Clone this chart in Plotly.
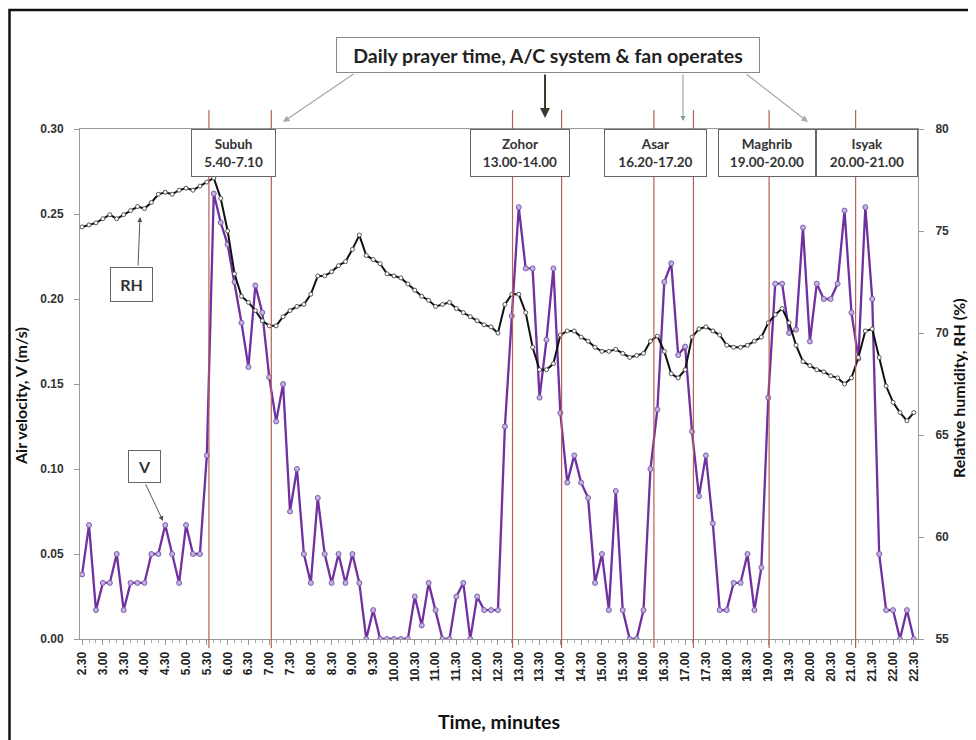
import plotly.graph_objects as go

# ---------------- data ----------------
# sample times (minutes of the day), one reading every 10 minutes from 2.30 to 22.30
sample_minutes = list(range(150, 1351, 10))
x_hours = [m / 60 for m in sample_minutes]

air_velocity = [
    0.038, 0.067, 0.017, 0.033, 0.033, 0.050, 0.017, 0.033, 0.033, 0.033,
    0.050, 0.050, 0.067, 0.050, 0.033, 0.067, 0.050, 0.050, 0.108, 0.262,
    0.245, 0.232, 0.210, 0.186, 0.160, 0.208, 0.192, 0.154, 0.128, 0.150,
    0.075, 0.100, 0.050, 0.033, 0.083, 0.050, 0.033, 0.050, 0.033, 0.050,
    0.033, 0.000, 0.017, 0.000, 0.000, 0.000, 0.000, 0.000, 0.025, 0.008,
    0.033, 0.017, 0.000, 0.000, 0.025, 0.033, 0.000, 0.025, 0.017, 0.017,
    0.017, 0.125, 0.190, 0.254, 0.218, 0.218, 0.142, 0.176, 0.218, 0.133,
    0.092, 0.108, 0.092, 0.083, 0.033, 0.050, 0.017, 0.087, 0.017, 0.000,
    0.000, 0.017, 0.100, 0.135, 0.210, 0.221, 0.167, 0.172, 0.122, 0.084,
    0.108, 0.068, 0.017, 0.017, 0.033, 0.033, 0.050, 0.017, 0.042, 0.142,
    0.209, 0.209, 0.180, 0.182, 0.242, 0.175, 0.209, 0.200, 0.200, 0.209,
    0.252, 0.192, 0.165, 0.254, 0.200, 0.050, 0.017, 0.017, 0.000, 0.017,
    0.000,
]

relative_humidity = [
    75.2, 75.3, 75.4, 75.6, 75.8, 75.6, 75.8, 76.0, 76.2, 76.1,
    76.4, 76.8, 76.9, 76.8, 77.0, 77.1, 77.0, 77.2, 77.4, 77.6,
    76.6, 75.0, 72.9, 71.8, 71.5, 71.1, 70.6, 70.35, 70.35, 70.8,
    71.1, 71.3, 71.4, 71.9, 72.8, 72.8, 73.0, 73.3, 73.5, 74.1,
    74.8, 73.8, 73.6, 73.4, 72.9, 72.8, 72.7, 72.4, 72.1, 71.8,
    71.6, 71.3, 71.4, 71.5, 71.2, 71.0, 70.8, 70.6, 70.4, 70.3,
    70.0, 71.4, 71.9, 71.9, 71.0, 69.3, 68.2, 68.2, 68.5, 69.9,
    70.1, 70.1, 69.8, 69.6, 69.3, 69.1, 69.1, 69.2, 69.0, 68.8,
    68.9, 69.0, 69.6, 69.85, 69.1, 68.0, 67.8, 68.2, 69.8, 70.2,
    70.3, 70.1, 69.9, 69.4, 69.3, 69.3, 69.4, 69.6, 69.8, 70.5,
    70.9, 71.2, 70.5, 69.4, 68.6, 68.4, 68.2, 68.1, 67.9, 67.8,
    67.5, 67.8, 68.8, 70.1, 70.2, 68.8, 67.4, 66.6, 66.1, 65.7,
    66.1,
]

tick_hours = [2.5, 3.0, 3.5, 4.0, 4.5, 5.0, 5.5, 6.0, 6.5, 7.0, 7.5, 8.0, 8.5, 9.0,
              9.5, 10.0, 10.5, 11.0, 11.5, 12.0, 12.5, 13.0, 13.5, 14.0, 14.5, 15.0,
              15.5, 16.0, 16.5, 17.0, 17.5, 18.0, 18.5, 19.0, 19.5, 20.0, 20.5, 21.0,
              21.5, 22.0, 22.5]
tick_labels = ["2.30", "3.00", "3.30", "4.00", "4.30", "5.00", "5.30", "6.00", "6.30",
               "7.00", "7.30", "8.00", "8.30", "9.00", "9.30", "10.00", "10.30", "11.00",
               "11.30", "12.00", "12.30", "13.00", "13.30", "14.00", "14.30", "15.00",
               "15.30", "16.00", "16.30", "17.00", "17.30", "18.00", "18.30", "19.00",
               "19.30", "20.00", "20.30", "21.00", "21.30", "22.00", "22.30"]

# prayer period boundary lines (hours, as drawn)
prayer_line_hours = [5.55, 7.05, 12.85, 14.03, 16.25, 17.2, 19.02, 21.1]
prayer_names = ["Subuh", "Zohor", "Asar", "Maghrib", "Isyak"]
prayer_periods = ["5.40-7.10", "13.00-14.00", "16.20-17.20", "19.00-20.00", "20.00-21.00"]

# ---------------- layout geometry ----------------
# page body has an 8px margin, so the figure is 8px smaller and all
# target-page pixel positions are converted through the plot-area box
OFF = 8
W, H = 976 - OFF, 740 - OFF
TL, TR, TT, TB = 80, 918, 129, 639          # plot area in page pixels
PL, PR, PT, PB = TL - OFF, TR - OFF, TT - OFF, TB - OFF


def px(xp):
    return (xp - TL) / (TR - TL)


def py(yp):
    return (TB - yp) / (TB - TT)


fig = go.Figure()

fig.add_trace(go.Scatter(
    x=x_hours, y=air_velocity, name="V", mode="lines+markers",
    line=dict(color="#7030A0", width=2.3),
    marker=dict(size=5, color="#c4b2de", line=dict(color="#7d5bb0", width=1)),
    yaxis="y",
))
fig.add_trace(go.Scatter(
    x=x_hours, y=relative_humidity, name="RH", mode="lines+markers",
    line=dict(color="#111111", width=2),
    marker=dict(size=4, color="#ffffff", line=dict(color="#555555", width=1)),
    yaxis="y2",
))

shapes = []
for h in prayer_line_hours:
    shapes.append(dict(type="line", xref="x", yref="paper", x0=h, x1=h,
                       y0=py(648), y1=py(110), layer="above",
                       line=dict(color="#b5605c", width=1.2)))
# outer frame
shapes.append(dict(type="rect", xref="paper", yref="paper",
                   x0=px(9.5), x1=px(990), y0=py(752), y1=py(10),
                   line=dict(color="#111111", width=2.5), layer="above"))

box_font = dict(family="Lato, Arial", size=13.5, color="#333333", weight="bold")
annotations = []
box_geom = [(190.7, 276), (470, 570), (604, 707), (718, 816), (816, 918)]
for (x0, x1), name, per in zip(box_geom, prayer_names, prayer_periods):
    annotations.append(dict(
        xref="paper", yref="paper", x=px((x0 + x1) / 2), y=py(153),
        xanchor="center", yanchor="middle", showarrow=False,
        text=f"{name}<br>{per}", font=box_font,
        bgcolor="white", bordercolor="#666666", borderwidth=1, borderpad=0,
        width=x1 - x0 - 2, height=46,
    ))

# main label box
annotations.append(dict(
    xref="paper", yref="paper", x=px(548), y=py(55), xanchor="center", yanchor="middle",
    showarrow=False, text="Daily prayer time, A/C system & fan operates",
    font=dict(family="Lato, Arial", size=19.5, color="#222222", weight="bold"),
    bgcolor="white", bordercolor="#888888", borderwidth=1, borderpad=0,
    width=422, height=34,
))

# arrows from main label and to the series labels
arrow_specs = [
    ((355, 73), (283, 122), "#a8a8a8", 1.3),
    ((545, 73), (545, 118), "#3b3b2b", 2.0),
    ((683, 73), (683, 121), "#7f9c9c", 1.0),
    ((745, 73), (808, 122), "#a8a8a8", 1.3),
    ((138, 267), (140, 217), "#555555", 1.0),
    ((145, 483), (163, 521), "#555555", 1.0),
]
for (tx, ty), (hx, hy), col, wd in arrow_specs:
    annotations.append(dict(
        xref="paper", yref="paper", x=px(hx), y=py(hy),
        ax=tx - hx, ay=ty - hy, axref="pixel", ayref="pixel",
        showarrow=True, arrowhead=2, arrowsize=1, arrowwidth=wd, arrowcolor=col,
        text="",
    ))

# RH and V label boxes
annotations.append(dict(
    xref="paper", yref="paper", x=px(131.5), y=py(284.5), xanchor="center", yanchor="middle",
    showarrow=False, text="RH", font=dict(family="Lato, Arial", size=16, color="#333333", weight="bold"),
    bgcolor="white", bordercolor="#666666", borderwidth=1, borderpad=0, width=41, height=33,
))
annotations.append(dict(
    xref="paper", yref="paper", x=px(144.5), y=py(466.5), xanchor="center", yanchor="middle",
    showarrow=False, text="V", font=dict(family="Lato, Arial", size=16, color="#333333", weight="bold"),
    bgcolor="white", bordercolor="#666666", borderwidth=1, borderpad=0, width=31, height=31,
))

# axis titles
annotations.append(dict(
    xref="paper", yref="paper", x=px(499), y=py(721), xanchor="center", yanchor="middle",
    showarrow=False, text="Time, minutes",
    font=dict(family="Lato, Arial", size=19.5, color="#111111", weight="bold"),
))
annotations.append(dict(
    xref="paper", yref="paper", x=px(20), y=py(396), xanchor="center", yanchor="middle",
    showarrow=False, text="Air velocity, V (m/s)", textangle=-90,
    font=dict(family="Lato, Arial", size=16, color="#111111", weight="bold"),
))
annotations.append(dict(
    xref="paper", yref="paper", x=px(958), y=py(388), xanchor="center", yanchor="middle",
    showarrow=False, text="Relative humidity, RH (%)", textangle=-90,
    font=dict(family="Lato, Arial", size=16, color="#111111", weight="bold"),
))

tick_font = dict(family="Liberation Sans, Arial", size=12, color="#333333", weight="bold")
xtick_font = dict(family="Liberation Sans, Arial", size=12, color="#222222", weight="bold")

fig.update_layout(
    width=W, height=H,
    margin=dict(l=PL, r=W - PR, t=PT, b=H - PB, pad=0),
    paper_bgcolor="white", plot_bgcolor="white",
    showlegend=False,
    shapes=shapes, annotations=annotations,
    xaxis=dict(
        range=[2.45, 22.6], tickmode="array", tickvals=tick_hours, ticktext=tick_labels,
        tickangle=-90, tickfont=xtick_font, ticks="outside", ticklen=5, tickcolor="#999999",
        showline=True, linecolor="#999999", linewidth=1, mirror=True,
        showgrid=False, zeroline=False, ticklabelstandoff=2,
        minor=dict(dtick=1 / 6, tick0=2.5, ticks="outside", ticklen=3, tickcolor="#aaaaaa",
                   showgrid=False),
    ),
    yaxis=dict(
        range=[0, 0.30], dtick=0.05, tickformat=".2f", tickfont=tick_font,
        ticks="outside", ticklen=5, tickcolor="#999999", ticklabelstandoff=8,
        showline=True, linecolor="#999999", linewidth=1,
        showgrid=False, zeroline=False,
    ),
    yaxis2=dict(
        range=[55, 80], dtick=5, overlaying="y", side="right", tickfont=tick_font,
        ticks="outside", ticklen=5, tickcolor="#999999", ticklabelstandoff=9,
        showline=True, linecolor="#999999", linewidth=1,
        showgrid=False, zeroline=False,
    ),
)

fig.write_html("out.html")
